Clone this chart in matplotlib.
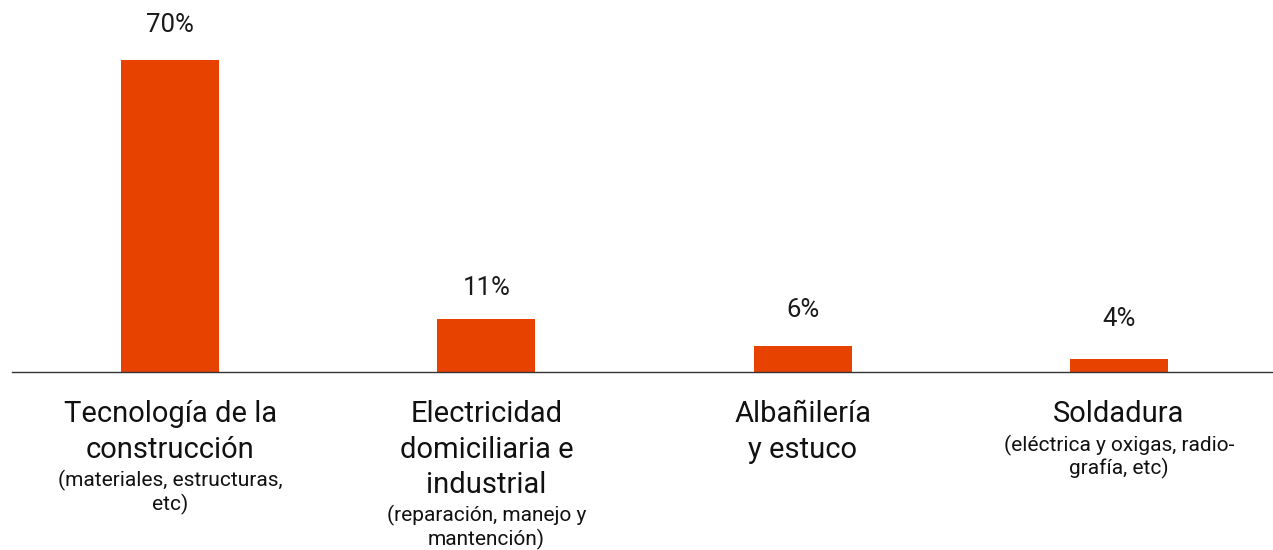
import matplotlib.pyplot as plt

plt.rcParams['font.family'] = ['Roboto', 'DejaVu Sans']

# --- datos ---
categorias = ["Tecnología de la\nconstrucción",
              "Electricidad\ndomiciliaria e\nindustrial",
              "Albañilería\ny estuco",
              "Soldadura"]
detalles = ["(materiales, estructuras,\netc)",
            "(reparación, manejo y\nmantención)",
            "",
            "(eléctrica y oxigas, radio-\ngrafía, etc)"]
alturas = [70, 11.9, 5.8, 2.9]      # altura de barra
etiquetas = [70, 11, 6, 4]          # % mostrado sobre cada barra

color_barra = '#E84200'

fig = plt.figure(figsize=(12.73, 5.5), dpi=100)
# eje un poco mas ancho que la figura para que la separacion coincida
ax = fig.add_axes([12 / 1273, 1 - 372 / 550, 1265 / 1273, 372 / 550])

x = list(range(len(categorias)))
ax.bar(x, alturas, width=0.31, color=color_barra, zorder=2)
ax.set_xlim(-0.5, 3.5)
ax.set_ylim(0, 83.5)

# porcentajes sobre las barras
for xi, v in zip(x, etiquetas):
    ax.annotate(f"{v}%", xy=(xi, v), xytext=(0, 16.8), textcoords='offset points',
                ha='center', va='bottom', fontsize=18.5, color='#1a1a1a')

# etiquetas de categoria bajo el eje
for xi, cat, det in zip(x, categorias, detalles):
    t = ax.annotate(cat, xy=(xi, 0), xytext=(0, -20.5), textcoords='offset points',
                    ha='center', va='top', fontsize=21, color='#111111',
                    linespacing=1.33)
    if det:
        ax.annotate(det, xy=(0.5, 0), xycoords=t, xytext=(0, -4.5),
                    textcoords='offset points', ha='center', va='top',
                    fontsize=15, color='#111111', linespacing=1.15)

for s in ['top', 'right', 'left']:
    ax.spines[s].set_visible(False)
ax.spines['bottom'].set_color('#333333')
ax.spines['bottom'].set_linewidth(1)
ax.set_xticks([])
ax.set_yticks([])

fig.savefig('out.png', dpi=100)
